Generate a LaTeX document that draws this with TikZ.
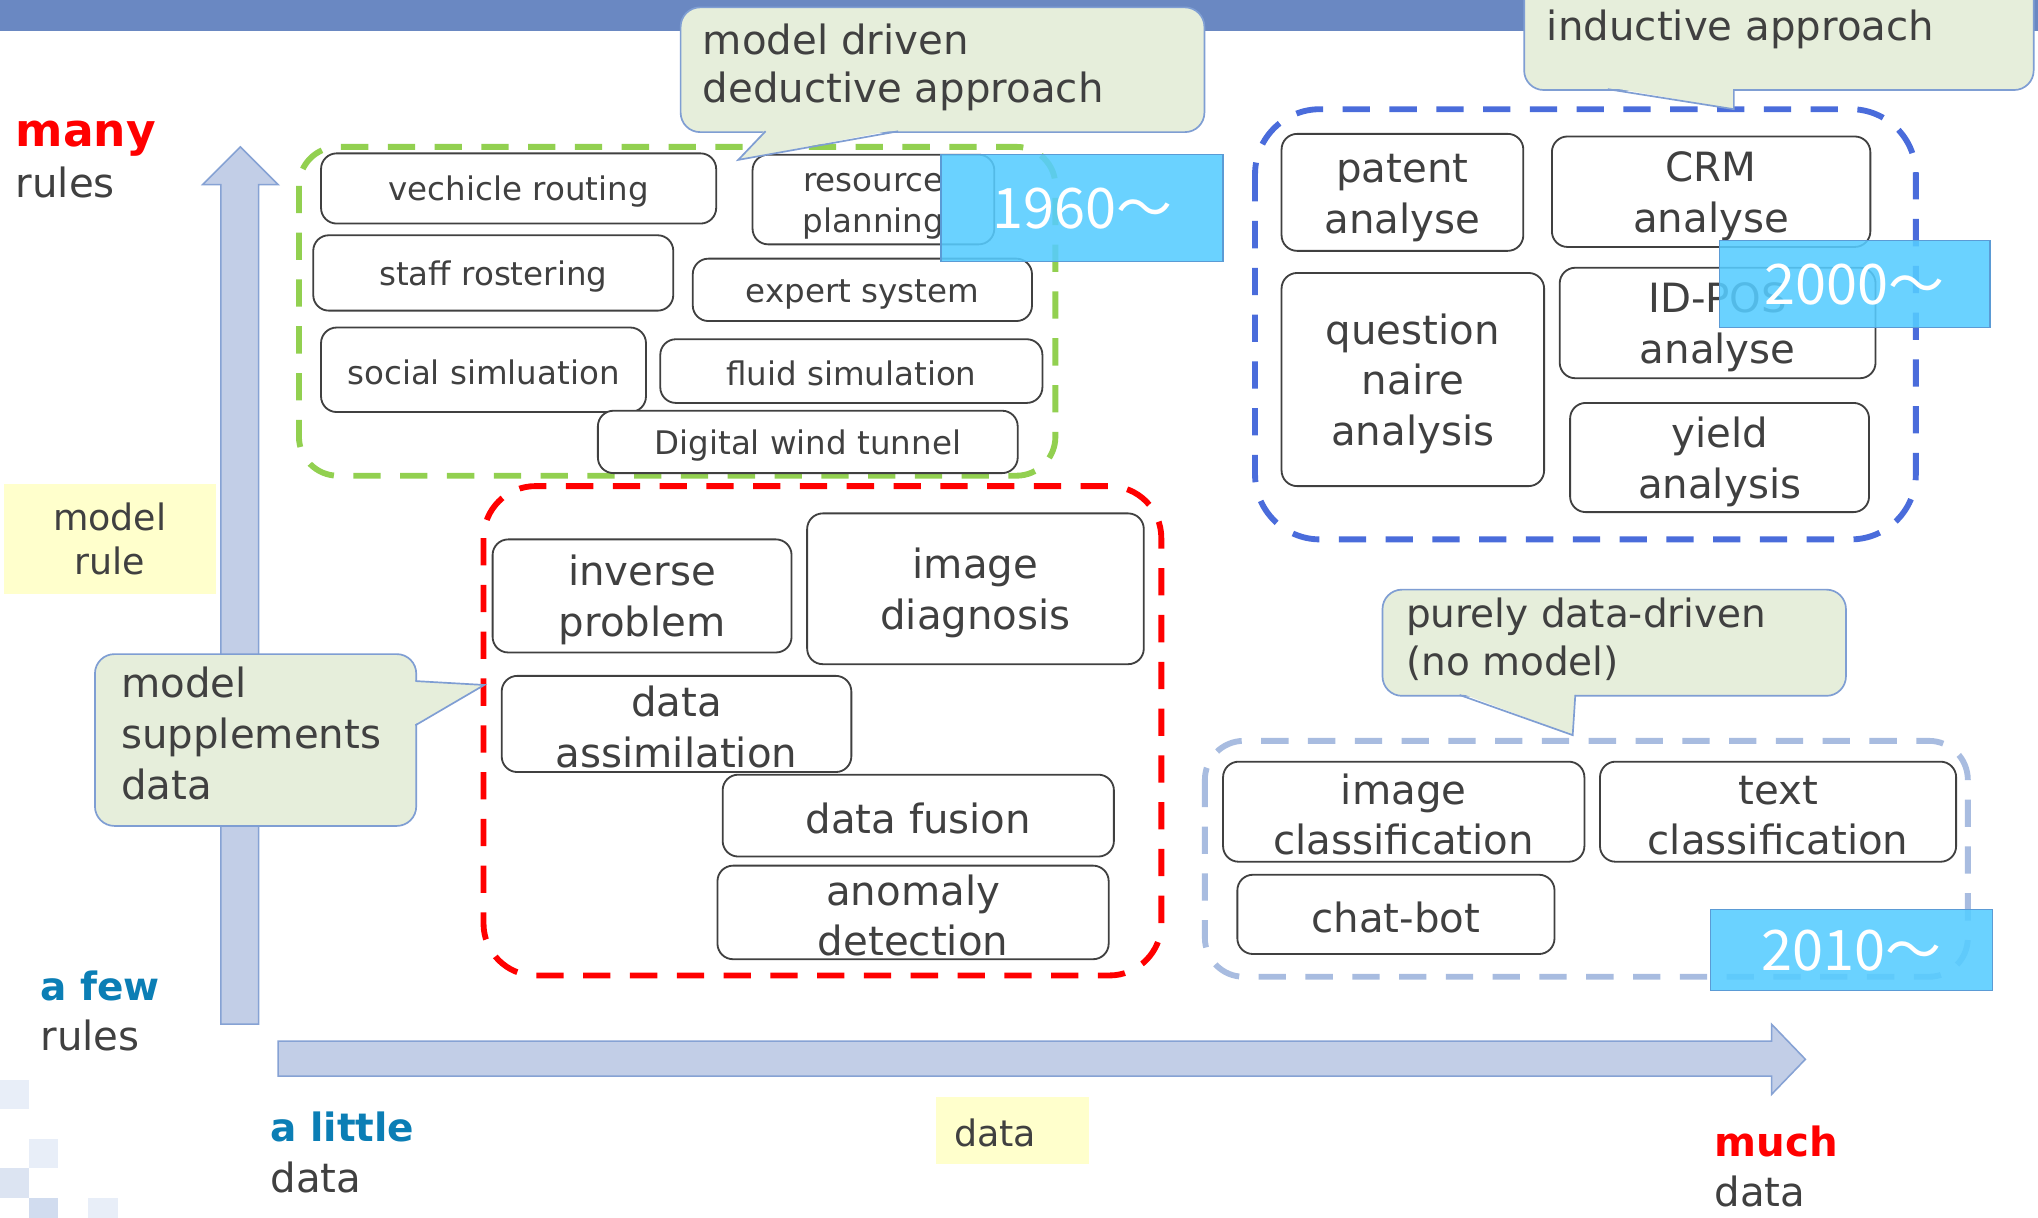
\documentclass[tikz,border=0pt]{standalone}
\usepackage{fontspec}
\setmainfont{DejaVu Sans}
\newfontfamily\cjkf{Noto Sans CJK JP}
\newcommand{\stL}{\rule[-0.25em]{0pt}{1em}}
\newcommand{\stB}{\rule[-0.08em]{0pt}{1.05em}}
\definecolor{barblue}{HTML}{6A88C2}
\definecolor{txt}{HTML}{404040}
\definecolor{boxgray}{HTML}{404040}
\definecolor{arrowfill}{HTML}{C2CEE7}
\definecolor{arrowline}{HTML}{86A2D4}
\definecolor{callfill}{HTML}{E6EEDB}
\definecolor{callline}{HTML}{7F9ED3}
\definecolor{yel}{HTML}{FFFFCC}
\definecolor{cyanbox}{HTML}{56CCFF}
\definecolor{cyanline}{HTML}{5B9BD5}
\definecolor{gdash}{HTML}{92D050}
\definecolor{rdash}{HTML}{FF0000}
\definecolor{bdash}{HTML}{4A6CDB}
\definecolor{lbdash}{HTML}{A8BCE0}
\definecolor{labblue}{HTML}{0B7EB5}
\definecolor{labred}{HTML}{FF0000}
\definecolor{sqa}{HTML}{E8EEF8}
\definecolor{sqb}{HTML}{DCE4F2}
\definecolor{sqc}{HTML}{D1DCEF}
\begin{document}
\begin{tikzpicture}[x=1pt,y=-1pt,
  ibox/.style={draw=boxgray,line width=1.4pt,rounded corners=12pt,fill=white,text=txt,align=center,inner sep=0pt},
  itemG/.style={ibox,font=\fontsize{25}{32}\selectfont},
  itemL/.style={ibox,font=\fontsize{31}{39}\selectfont},
  yearbox/.style={draw=cyanline,line width=1pt,fill=cyanbox,fill opacity=0.88,text opacity=1,text=white,font=\cjkf\fontsize{43}{43}\selectfont,text height=31pt,text depth=0pt,inner sep=0pt},
  grp/.style={line width=4.5pt,dash pattern=on 21pt off 15pt},
  callbox/.style={draw=callline,line width=1.3pt,fill=callfill,rounded corners=15pt,inner sep=0pt},
  calltext/.style={text=txt,align=left,inner sep=0pt,anchor=north west},
  arr/.style={draw=arrowline,line width=1.2pt,fill=arrowfill},
  lab/.style={inner sep=0pt,anchor=base west}
]
\clip (0,0) rectangle (1568,937);
\fill[white] (0,0) rectangle (1568,937);
% top bar
\fill[barblue] (0,0) rectangle (1568,24);
% decorative squares
\fill[sqa] (0,831) rectangle (22,853);
\fill[sqa] (22,876) rectangle (45,899);
\fill[sqb] (0,899) rectangle (22,922);
\fill[sqc] (22,922) rectangle (45,937);
\fill[sqa] (68,922) rectangle (91,937);
% axes
\draw[arr] (170,788) -- (199,788) -- (199,142) -- (214,142) -- (185,113) -- (156,142) -- (170,142) -- cycle;
\draw[arr] (214,801) -- (1363,801) -- (1363,788) -- (1389,815) -- (1363,842) -- (1363,828) -- (214,828) -- cycle;
% groups
\draw[grp,gdash,rounded corners=30pt] (230,113) rectangle (812,366);
\draw[grp,rdash,rounded corners=40pt] (372,374) rectangle (893.5,750.5);
\draw[grp,bdash,rounded corners=50pt] (965.6,84) rectangle (1474,415);
\draw[grp,lbdash,rounded corners=30pt] (927,570) rectangle (1514,751.5);
% green items
\node[itemG,minimum width=304,minimum height=54] (vr) at (399,145) {\stB vechicle routing};
\node[itemG,minimum width=186,minimum height=69] (rp) at (672,153.5) {\stB resource\\\stB planning};
\node[itemG,minimum width=277,minimum height=58] (sr) at (379.5,210) {\stB staff rostering};
\node[itemG,minimum width=261,minimum height=48] (es) at (663.5,223) {\stB expert system};
\node[itemG,minimum width=250,minimum height=65] (ss) at (372,284.5) {\stB social simluation};
\node[itemG,minimum width=294,minimum height=49] (fs) at (655,285.5) {\stB fluid simulation};
\node[itemG,minimum width=323,minimum height=48] (dw) at (621.5,340) {\stB Digital wind tunnel};
% blue items
\node[itemL,minimum width=186,minimum height=90] (pa) at (1079,148) {\stB patent\\\stB analyse};
\node[itemL,minimum width=245,minimum height=85] (crm) at (1316.5,147.5) {\stB CRM\\\stB analyse};
\node[itemL,minimum width=202,minimum height=164] (qa) at (1087,292) {\stB question\\\stB naire\\\stB analysis};
\node[itemL,minimum width=243,minimum height=85] (idp) at (1321.5,248.5) {\stB ID-POS\\\stB analyse};
\node[itemL,minimum width=230,minimum height=84] (ya) at (1323,352) {\stB yield\\\stB analysis};
% red items
\node[itemL,minimum width=230,minimum height=87] (inv) at (494,458.5) {\stB inverse\\\stB problem};
\node[itemL,minimum width=259,minimum height=116] (imd) at (750.5,453) {\stB image\\\stB diagnosis};
\node[itemL,minimum width=269,minimum height=74] (da) at (520.5,557) {\stB data\\\stB assimilation};
\node[itemL,minimum width=301,minimum height=63] (df) at (706.5,627.5) {\stB data fusion};
\node[itemL,minimum width=301,minimum height=72] (ad) at (702.5,702) {\stB anomaly\\\stB detection};
% light blue items
\node[itemL,minimum width=278,minimum height=77] (ic) at (1080,624.5) {\stB image\\\stB classification};
\node[itemL,minimum width=274,minimum height=77] (tc) at (1368,624.5) {\stB text\\\stB classification};
\node[itemL,minimum width=244,minimum height=61] (cb) at (1074,703.5) {\stB chat-bot};
% years
\node[yearbox,minimum width=217,minimum height=82] (y1960) at (832.5,160) {1960～};
\node[yearbox,minimum width=208,minimum height=67] (y2000) at (1427,218.5) {2000～};
\node[yearbox,minimum width=217,minimum height=62] (y2010) at (1424.5,731) {2010～};
% callout 1
\node[callbox,minimum width=403,minimum height=96,anchor=north west] (c1) at (523,5) {};
\fill[callfill] (589,99.5) -- (568,123) -- (691,99.5) -- cycle;
\draw[callline,line width=1.3pt] (589,101) -- (568,123) -- (691,101);
\node[calltext,font=\fontsize{31}{37}\selectfont] (c1t) at (540.6,17.8) {\stL model driven\\deductive approach};
% callout 2
\node[callbox,minimum width=392,minimum height=98.6,anchor=north west] (c2) at (1172,-30) {};
\fill[callfill] (1237,67) -- (1334,84) -- (1334,67) -- cycle;
\draw[callline,line width=1.3pt] (1237,68.6) -- (1334,84) -- (1334,68.6);
\node[lab,text=txt,font=\fontsize{31}{37}\selectfont] (c2t) at (1190,31) {inductive approach};
% callout 3
\node[callbox,minimum width=247.2,minimum height=132.2,anchor=north west] (c3) at (72.4,502.6) {};
\fill[callfill] (318,524) -- (372.6,527) -- (318,558) -- cycle;
\draw[callline,line width=1.3pt] (319.6,524) -- (372.6,527) -- (319.6,558);
\node[calltext,font=\fontsize{31}{39.3}\selectfont] (c3t) at (93,512.8) {\stL model\\supplements\\data};
% callout 4
\node[callbox,minimum width=356.6,minimum height=81.7,anchor=north west] (c4) at (1063,453) {};
\fill[callfill] (1123,533) -- (1210,565.6) -- (1212,533) -- cycle;
\draw[callline,line width=1.3pt] (1123,534.7) -- (1210,565.6) -- (1212,534.7);
\node[calltext,font=\fontsize{30}{37}\selectfont] (c4t) at (1081.7,460.1) {\stL purely data-driven\\(no model)};
% axis labels
\node[lab,text=labred,font=\bfseries\fontsize{35}{35}\selectfont] (many) at (12,112.8) {many};
\node[lab,text=txt,font=\fontsize{31}{31}\selectfont] (rules1) at (12,151.8) {rules};
\node[lab,text=labblue,font=\bfseries\fontsize{30}{30}\selectfont] (afew) at (31,770) {a few};
\node[lab,text=txt,font=\fontsize{31}{31}\selectfont] (rules2) at (31,808.6) {rules};
\node[lab,text=labblue,font=\bfseries\fontsize{30}{30}\selectfont] (alittle) at (208,878.6) {a little};
\node[lab,text=txt,font=\fontsize{31}{31}\selectfont] (data1) at (208,917.8) {data};
\node[lab,text=labred,font=\bfseries\fontsize{31}{31}\selectfont] (much) at (1319,889.6) {much};
\node[lab,text=txt,font=\fontsize{31}{31}\selectfont] (data2) at (1319,928) {data};
% yellow labels
\node[fill=yel,minimum width=163,minimum height=85,inner sep=0pt,align=center,text=txt,font=\fontsize{28}{34}\selectfont] (mrule) at (84.5,414.5) {\stL model\\rule};
\node[fill=yel,anchor=north west,minimum height=51,text width=90pt,inner xsep=14pt,inner ysep=0pt,align=left,text=txt,font=\fontsize{28}{28}\selectfont,text height=25pt,text depth=0pt] (ydata) at (720,844) {data};
\end{tikzpicture}
\end{document}
